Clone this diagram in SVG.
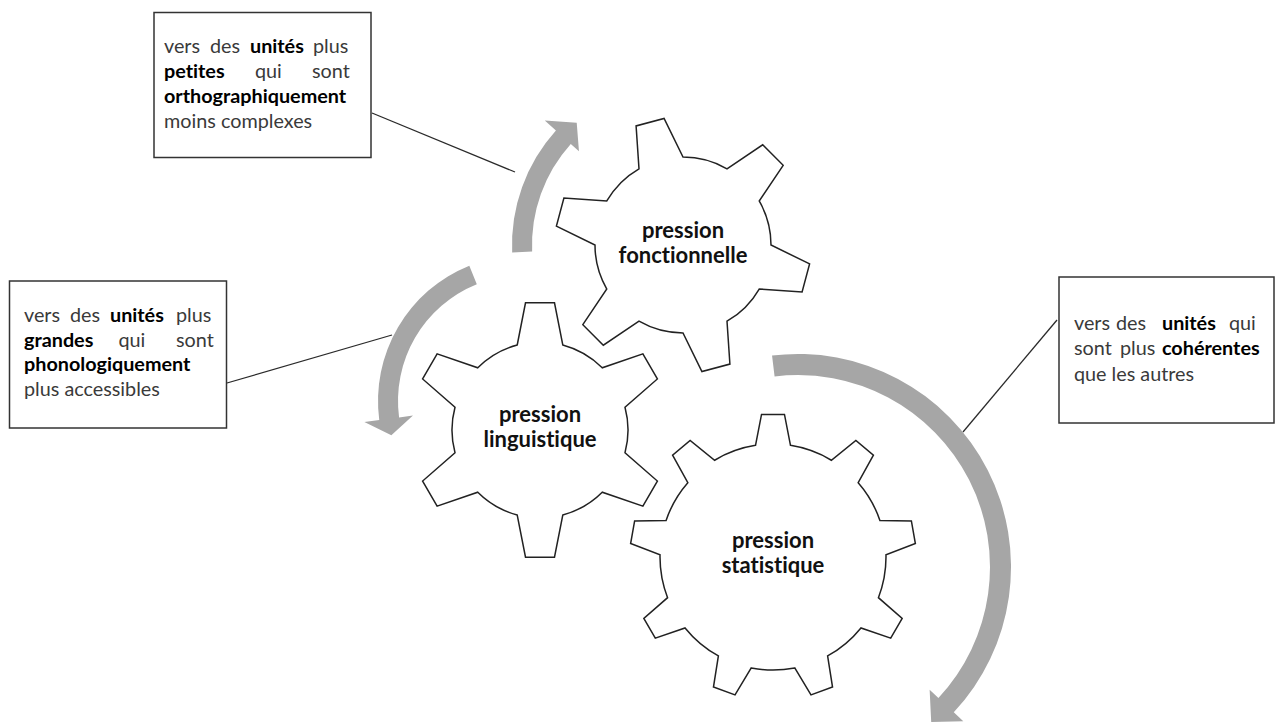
<svg xmlns="http://www.w3.org/2000/svg" xmlns:xlink="http://www.w3.org/1999/xlink" width="1276" height="722" viewBox="0 0 1276 722">
  <style>
    .gear { fill: #ffffff; stroke: #222222; stroke-width: 1.5; stroke-linejoin: miter; }
    .arrow { fill: #a6a6a6; stroke: none; }
    .box { fill: #ffffff; stroke: #333333; stroke-width: 1.5; }
    .conn { stroke: #2a2a2a; stroke-width: 1.3; fill: none; }
    text { font-variant-ligatures: none; font-feature-settings: "liga" 0, "clig" 0; }
    .t { font-family: Lato, "Open Sans", sans-serif; font-size: 19.8px; fill: #3a3a3a; }
    .b { font-weight: bold; fill: #000000; }
    .g { font-family: Lato, "Open Sans", sans-serif; font-size: 22px; font-weight: bold; fill: #111111; text-anchor: middle; }
  </style>
  <defs>
    <path id="gear6" d="M -22.78 -85 L -14.49 -127.18 L 14.49 -127.18 L 22.78 -85 A 88 88 0 0 1 62.23 -62.23 L 102.89 -76.14 L 117.38 -51.04 L 85 -22.78 A 88 88 0 0 1 85 22.78 L 117.38 51.04 L 102.89 76.14 L 62.23 62.23 A 88 88 0 0 1 22.78 85 L 14.49 127.18 L -14.49 127.18 L -22.78 85 A 88 88 0 0 1 -62.23 62.23 L -102.89 76.14 L -117.38 51.04 L -85 22.78 A 88 88 0 0 1 -85 -22.78 L -117.38 -51.04 L -102.89 -76.14 L -62.23 -62.23 A 88 88 0 0 1 -22.78 -85 Z"/>
  </defs>
  <rect x="0" y="0" width="1276" height="722" fill="#ffffff"/>

  <g id="arrows">
    <path class="arrow" d="M 512.16 252.46 A 171 171 0 0 1 555.92 130.58 L 544.78 120.54 L 576.72 122.74 L 578.96 151.32 L 570.79 143.96 A 151 151 0 0 0 532.14 251.59 Z"/>
    <path class="arrow" d="M 469.31 265.63 A 146 146 0 0 0 379.25 420.06 L 364.38 422.02 L 391.36 435.30 L 412.96 415.62 L 399.08 417.45 A 126 126 0 0 1 476.80 284.18 Z"/>
    <path class="arrow" d="M 772.04 355.59 A 213 213 0 0 1 953.78 712.27 L 963.29 721.13 L 931.2 722 L 929.64 689.76 L 938.42 697.94 A 192 192 0 0 0 774.60 376.43 Z"/>
  </g>

  <g id="connectors">
    <line class="conn" x1="372" y1="113" x2="515" y2="172"/>
    <line class="conn" x1="227" y1="383" x2="392" y2="335"/>
    <line class="conn" x1="1057" y1="320" x2="963" y2="432"/>
  </g>

  <g id="gear-fonctionnelle">
    <use href="#gear6" xlink:href="#gear6" class="gear" transform="translate(683,245) rotate(-15)"/>
    <text class="g" x="683" y="238">pression</text>
    <text class="g" x="683" y="263">fonctionnelle</text>
  </g>

  <g id="gear-linguistique">
    <use href="#gear6" xlink:href="#gear6" class="gear" transform="translate(540,430)"/>
    <text class="g" x="540" y="422">pression</text>
    <text class="g" x="540" y="447">linguistique</text>
  </g>

  <g id="gear-statistique">
    <path class="gear" transform="translate(773,557)" d="M -17.48 -111.64 L -11.47 -142.54 L 11.47 -142.54 L 17.48 -111.64 A 113 113 0 0 1 58.37 -96.76 L 82.87 -116.54 L 100.41 -101.82 L 85.19 -74.28 A 113 113 0 0 1 106.91 -36.60 L 138.38 -36.05 L 142.37 -13.46 L 112.98 -2.17 A 113 113 0 0 1 105.42 40.68 L 129.18 61.34 L 117.71 81.20 L 87.95 70.95 A 113 113 0 0 1 54.61 98.93 L 59.53 130.02 L 37.98 137.87 L 21.75 110.89 A 113 113 0 0 1 -21.75 110.89 L -37.98 137.87 L -59.53 130.02 L -54.61 98.93 A 113 113 0 0 1 -87.95 70.95 L -117.71 81.20 L -129.18 61.34 L -105.42 40.68 A 113 113 0 0 1 -112.98 -2.17 L -142.37 -13.46 L -138.38 -36.05 L -106.91 -36.60 A 113 113 0 0 1 -85.19 -74.28 L -100.41 -101.82 L -82.87 -116.54 L -58.37 -96.76 A 113 113 0 0 1 -17.48 -111.64 Z"/>
    <text class="g" x="773" y="548">pression</text>
    <text class="g" x="773" y="573">statistique</text>
  </g>

  <g id="box-orthographique">
    <rect class="box" x="154" y="12.5" width="217" height="145"/>
    <text class="t" y="53"><tspan x="164">vers</tspan><tspan x="210">des</tspan><tspan x="250" class="b">unités</tspan><tspan x="313">plus</tspan></text>
    <text class="t" y="78"><tspan x="164" class="b">petites</tspan><tspan x="255">qui</tspan><tspan x="312">sont</tspan></text>
    <text class="t b" x="164" y="103">orthographiquement</text>
    <text class="t" x="164" y="128">moins complexes</text>
  </g>

  <g id="box-phonologique">
    <rect class="box" x="9.5" y="281" width="217" height="147"/>
    <text class="t" y="322"><tspan x="24">vers</tspan><tspan x="70">des</tspan><tspan x="110" class="b">unités</tspan><tspan x="176">plus</tspan></text>
    <text class="t" y="346.5"><tspan x="24" class="b">grandes</tspan><tspan x="118.5">qui</tspan><tspan x="176">sont</tspan></text>
    <text class="t b" x="24" y="371">phonologiquement</text>
    <text class="t" x="24" y="396">plus accessibles</text>
  </g>

  <g id="box-coherentes">
    <rect class="box" x="1059" y="277" width="215" height="146"/>
    <text class="t" y="330"><tspan x="1074">vers</tspan><tspan x="1116">des</tspan><tspan x="1162" class="b">unités</tspan><tspan x="1229">qui</tspan></text>
    <text class="t" y="355"><tspan x="1074">sont</tspan><tspan x="1120">plus</tspan><tspan x="1162" class="b">cohérentes</tspan></text>
    <text class="t" x="1074" y="380.5">que les autres</text>
  </g>
</svg>
